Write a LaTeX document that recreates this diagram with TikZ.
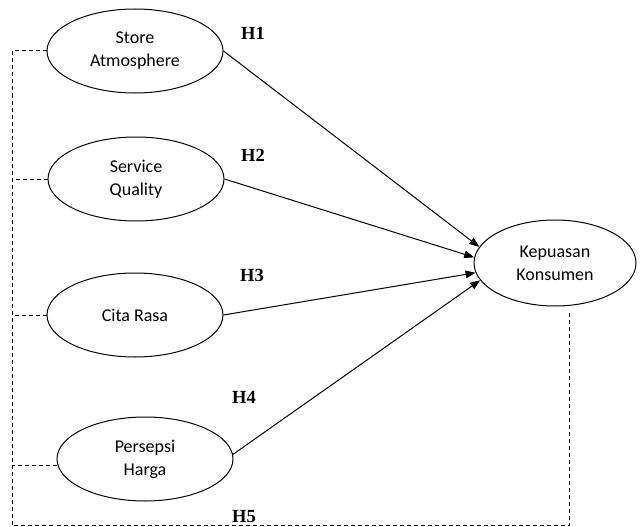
\documentclass[tikz,border=0pt]{standalone}
\usepackage{fontspec}
\setmainfont{Carlito}
\newfontfamily\hfont{Liberation Serif}
\usetikzlibrary{shapes.geometric,arrows.meta}
\begin{document}
\begin{tikzpicture}[x=1pt,y=-1pt,
  var/.style={draw,ellipse,line width=1pt,minimum width=176pt,minimum height=84pt,inner sep=0pt,
    align=center,font=\fontsize{18pt}{23pt}\selectfont},
  hyp/.style={font=\hfont\bfseries\fontsize{18.5pt}{22pt}\selectfont,inner sep=0pt},
  path/.style={line width=1pt,-{Triangle[length=10pt,width=7.5pt]}},
  dline/.style={line width=1pt,dash pattern=on 4pt off 3pt}]
\useasboundingbox (0,0) rectangle (640,527);
\node[var] (sa) at (135,51) {Store\\Atmosphere};
\node[var] (sq) at (136,179) {Service\\Quality};
\node[var] (cr) at (135,315) {Cita Rasa};
\node[var] (ph) at (145,459) {Persepsi\\Harga};
\node[var,minimum width=162pt,minimum height=86pt] (kk) at (555,263) {Kepuasan\\Konsumen};
\node[hyp] (h1) at (253,33) {H1};
\node[hyp] (h2) at (253,155) {H2};
\node[hyp] (h3) at (252,275) {H3};
\node[hyp] (h4) at (244,397) {H4};
\draw[path] (sa.east) -- (kk.168.8);
\draw[path] (sq.east) -- (kk.176.4);
\draw[path] (cr.east) -- (kk.187.8);
\draw[path] (ph.3) -- (kk.193);
\coordinate (tl) at (12,51);
\coordinate (bl) at (12,525);
\coordinate (br) at (569,525);
\coordinate (rt) at (569,313);
\draw[dline] (sa.west) -- (tl) -- (bl) -- (br) -- (rt);
\draw[dline] (sq.west) -- (sq.west -| tl);
\draw[dline] (cr.west) -- (cr.west -| tl);
\draw[dline] (ph.184) -- (ph.184 -| tl);
\node[hyp] (h5) at (244,517) {H5};
\end{tikzpicture}
\end{document}
